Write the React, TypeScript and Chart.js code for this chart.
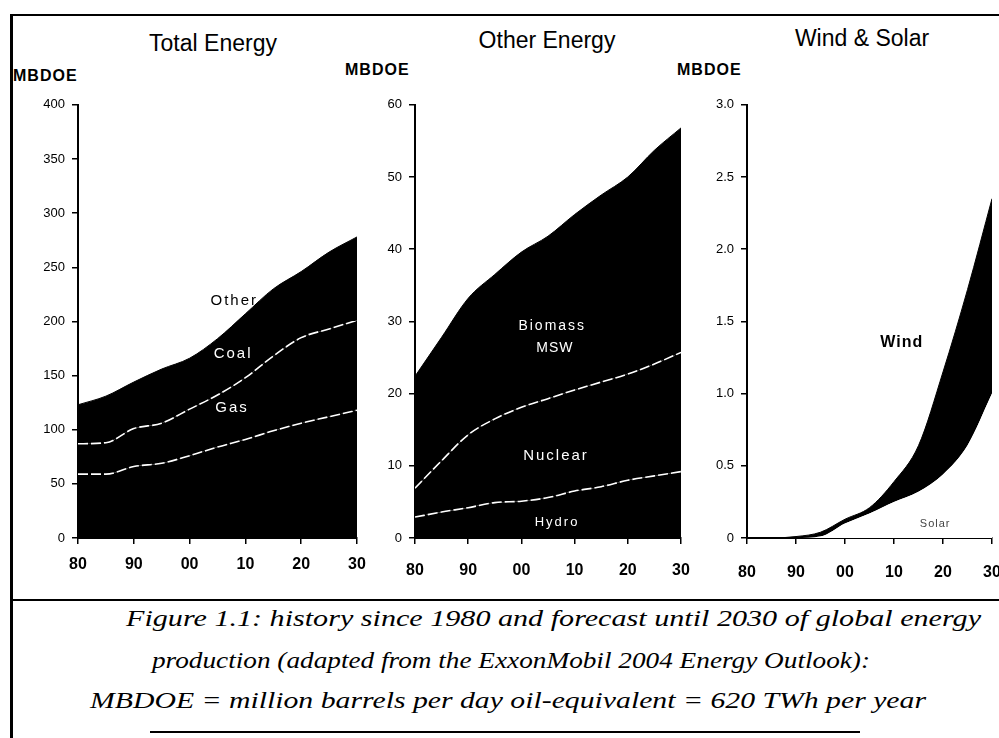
import React, { useEffect, useRef } from "react";
import { Chart, registerables } from "chart.js";

Chart.register(...registerables);

// ---------- data ----------
const years = [1980, 1985, 1990, 1995, 2000, 2005, 2010, 2015, 2020, 2025, 2030];
const xTickLabels = ["80", "90", "00", "10", "20", "30"];

// Total Energy (MBDOE)
const oil = [59, 59, 66, 69, 76, 84, 91, 99, 106, 112, 118];
const gas = [28, 29, 35, 37, 43, 48, 57, 69, 79, 81, 83];
const coalOther = [36, 43, 43, 50, 47, 52, 59, 62, 61, 71, 77];
const totalTicks = [0, 50, 100, 150, 200, 250, 300, 350, 400];

// Other Energy (MBDOE)
const hydro = [2.9, 3.6, 4.2, 4.9, 5.1, 5.6, 6.5, 7.1, 8.0, 8.6, 9.2];
const nuclear = [4.0, 7.1, 10.1, 11.6, 13.0, 13.7, 14.0, 14.5, 14.7, 15.5, 16.5];
const biomass = [15.5, 17.1, 18.9, 20.0, 21.5, 22.5, 24.3, 25.9, 27.3, 29.6, 31.1];
const otherTicks = [0, 10, 20, 30, 40, 50, 60];

// Wind & Solar (MBDOE)
const solar = [0, 0, 0, 0.01, 0.1, 0.17, 0.25, 0.32, 0.44, 0.64, 1.0];
const wind = [0, 0, 0.01, 0.03, 0.03, 0.04, 0.14, 0.32, 0.71, 1.08, 1.35];
const windTicks = [0, 0.5, 1.0, 1.5, 2.0, 2.5, 3.0];

const captionLines = [
  "Figure 1.1: history since 1980 and forecast until 2030 of global energy",
  "production (adapted from the ExxonMobil 2004 Energy Outlook):",
  "MBDOE = million barrels per day oil-equivalent = 620 TWh per year",
];

// ---------- helpers ----------
const SANS = "'Liberation Sans', Arial, sans-serif";

const pts = (vals: number[]) => vals.map((v, i) => ({ x: years[i], y: v }));

const areaLabels = {
  id: "areaLabels",
  afterDatasetsDraw(chart: any, _args: any, opts: any) {
    const { ctx } = chart;
    const xs = chart.scales.x;
    const ys = chart.scales.y;
    for (const l of opts.items || []) {
      ctx.save();
      ctx.font = l.font;
      ctx.fillStyle = l.color;
      ctx.textAlign = "center";
      ctx.textBaseline = "middle";
      try {
        (ctx as any).letterSpacing = l.spacing || "0px";
      } catch (e) {}
      ctx.fillText(l.text, xs.getPixelForValue(l.x), ys.getPixelForValue(l.y));
      ctx.restore();
    }
  },
};

type Panel = {
  datasets: any[];
  yMax: number;
  yTicks: number[];
  yFmt: (v: number) => string;
  yWidth: number;
  padTop: number;
  padRight: number;
  xPad: number;
  labels: any[];
};

function makeConfig(p: Panel): any {
  return {
    type: "line",
    data: { datasets: p.datasets },
    options: {
      animation: false,
      responsive: false,
      maintainAspectRatio: false,
      layout: { padding: { left: 0, right: p.padRight, top: p.padTop, bottom: 0 } },
      plugins: {
        legend: { display: false },
        tooltip: { enabled: false },
        title: { display: false },
        areaLabels: { items: p.labels },
      },
      elements: {
        point: { radius: 0 },
        line: { cubicInterpolationMode: "monotone" },
      },
      scales: {
        x: {
          type: "linear",
          min: 1980,
          max: 2030,
          afterBuildTicks: (s: any) => {
            s.ticks = xTickLabels.map((_, i) => ({ value: 1980 + i * 10 }));
          },
          ticks: {
            callback: (_v: any, i: number) => xTickLabels[i],
            font: { family: SANS, size: 16, weight: "bold" },
            color: "#000",
            padding: p.xPad,
            maxRotation: 0,
            autoSkip: false,
          },
          grid: { drawOnChartArea: false, tickLength: 6, color: "#000", lineWidth: 1.5 },
          border: { color: "#000", width: 2 },
          afterFit: (s: any) => {
            s.height = 48;
          },
        },
        y: {
          stacked: true,
          min: 0,
          max: p.yMax,
          afterBuildTicks: (s: any) => {
            s.ticks = p.yTicks.map((v) => ({ value: v }));
          },
          ticks: {
            callback: (v: any) => p.yFmt(Number(v)),
            font: { family: SANS, size: 13 },
            color: "#000",
            padding: 7,
            autoSkip: false,
          },
          grid: { drawOnChartArea: false, tickLength: 6, color: "#000", lineWidth: 1.5 },
          border: { color: "#000", width: 2 },
          afterFit: (s: any) => {
            s.width = p.yWidth;
          },
        },
      },
    },
    plugins: [areaLabels],
  };
}

const layer = (label: string, vals: number[], fill: any, bg: string, border: string, bw: number, dash: number[] = []) => ({
  label,
  data: pts(vals),
  fill,
  backgroundColor: bg,
  borderColor: border,
  borderWidth: bw,
  borderDash: dash,
});

const LBL = (size: number, weight = "normal") => `${weight} ${size}px ${SANS}`;

const panels: { box: [number, number, number, number]; cfg: Panel }[] = [
  {
    box: [0, 90, 380, 496],
    cfg: {
      datasets: [
        layer("Oil", oil, "origin", "#000", "#fff", 1.6, [10, 3]),
        layer("Gas", gas, "-1", "#000", "#fff", 1.6, [10, 3]),
        layer("Coal", coalOther, "-1", "#000", "#000", 1),
      ],
      yMax: 400,
      yTicks: totalTicks,
      yFmt: (v) => String(v),
      yWidth: 78,
      padTop: 10,
      padRight: 23,
      xPad: 11,
      labels: [
        { text: "Other", x: 2008, y: 219, font: LBL(15), color: "#000", spacing: "2px" },
        { text: "Coal", x: 2007.8, y: 170, font: LBL(15), color: "#fff", spacing: "2px" },
        { text: "Gas", x: 2007.6, y: 120, font: LBL(15), color: "#fff", spacing: "2px" },
      ],
    },
  },
  {
    box: [335, 90, 376, 496],
    cfg: {
      datasets: [
        layer("Hydro", hydro, "origin", "#000", "#fff", 1.6, [10, 3]),
        layer("Nuclear", nuclear, "-1", "#000", "#fff", 1.6, [10, 3]),
        layer("Biomass / MSW", biomass, "-1", "#000", "#000", 1),
      ],
      yMax: 60,
      yTicks: otherTicks,
      yFmt: (v) => String(v),
      yWidth: 80,
      padTop: 7,
      padRight: 30,
      xPad: 17,
      labels: [
        { text: "Biomass", x: 2005.8, y: 29.4, font: LBL(14), color: "#fff", spacing: "2px" },
        { text: "MSW", x: 2006.3, y: 26.3, font: LBL(14), color: "#fff", spacing: "1px" },
        { text: "Nuclear", x: 2006.5, y: 11.4, font: LBL(15), color: "#fff", spacing: "2px" },
        { text: "Hydro", x: 2006.7, y: 2.2, font: LBL(13), color: "#fff", spacing: "2px" },
      ],
    },
  },
  {
    box: [667, 90, 357, 496],
    cfg: {
      datasets: [
        layer("Solar", solar, "origin", "#fff", "#fff", 0),
        layer("Wind", wind, "-1", "#000", "#000", 1),
      ],
      yMax: 3.0,
      yTicks: windTicks,
      yFmt: (v) => (v === 0 ? "0" : v.toFixed(1)),
      yWidth: 80,
      padTop: 0,
      padRight: 32,
      xPad: 19,
      labels: [
        { text: "Wind", x: 2011.6, y: 1.35, font: LBL(16, "bold"), color: "#000", spacing: "1px" },
        { text: "Solar", x: 2018.4, y: 0.1, font: LBL(11), color: "#444", spacing: "1px" },
      ],
    },
  },
];

function ChartPanel({ box, cfg }: { box: [number, number, number, number]; cfg: Panel }) {
  const ref = useRef<HTMLCanvasElement>(null);
  useEffect(() => {
    if (!ref.current) return;
    const chart = new Chart(ref.current, makeConfig(cfg));
    return () => chart.destroy();
  }, []);
  return (
    <div style={{ position: "absolute", left: box[0], top: box[1], width: box[2], height: box[3] }}>
      <canvas ref={ref} width={box[2]} height={box[3]} style={{ width: box[2], height: box[3], display: "block" }} />
    </div>
  );
}

const abs = (o: any): React.CSSProperties => ({ position: "absolute", ...o });

// caption line placement (layout only)
const capX = [126, 152, 90];
const capW = [855, 718, 836];
const capBase = [26, 68, 108];

export default function App() {
  const titleStyle = { fontFamily: SANS, fontSize: 23, color: "#000", whiteSpace: "nowrap" as const };
  const unitStyle = { fontFamily: SANS, fontSize: 16, fontWeight: "bold" as const, letterSpacing: 1, color: "#000" };
  return (
    <div style={abs({ left: 0, top: 0, width: 999, height: 738, overflow: "hidden", background: "#fff" })}>
      {/* frame */}
      <div style={abs({ left: 10, top: 14, width: 989, height: 2, background: "#000" })} />
      <div style={abs({ left: 10, top: 14, width: 3, height: 724, background: "#000" })} />
      <div style={abs({ left: 10, top: 599, width: 989, height: 2, background: "#000" })} />
      <div style={abs({ left: 150, top: 731, width: 710, height: 2, background: "#000" })} />

      {/* titles */}
      <div style={abs({ left: 213, top: 30, transform: "translateX(-50%)", ...titleStyle })}>Total Energy</div>
      <div style={abs({ left: 547, top: 27, transform: "translateX(-50%)", ...titleStyle })}>Other Energy</div>
      <div style={abs({ left: 862, top: 25, transform: "translateX(-50%)", ...titleStyle })}>Wind &amp; Solar</div>

      {/* units */}
      <div style={abs({ left: 13, top: 67, ...unitStyle })}>MBDOE</div>
      <div style={abs({ left: 345, top: 61, ...unitStyle })}>MBDOE</div>
      <div style={abs({ left: 677, top: 61, ...unitStyle })}>MBDOE</div>

      {panels.map((p, i) => (
        <ChartPanel key={i} box={p.box} cfg={p.cfg} />
      ))}

      {/* caption */}
      <svg width={999} height={138} style={abs({ left: 0, top: 600 })}>
        {captionLines.map((t, i) => (
          <text
            key={i}
            x={capX[i]}
            y={capBase[i]}
            textLength={capW[i]}
            lengthAdjust="spacingAndGlyphs"
            fontFamily="'Liberation Serif', 'Times New Roman', serif"
            fontStyle="italic"
            fontSize={24}
            fill="#000"
          >
            {t}
          </text>
        ))}
      </svg>
    </div>
  );
}
